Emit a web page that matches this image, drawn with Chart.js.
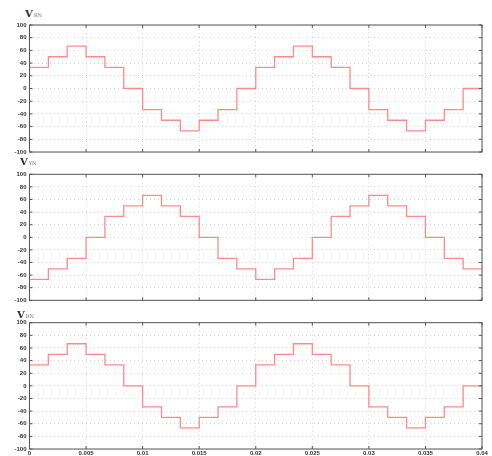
<!DOCTYPE html>
<html>
<head>
<meta charset="utf-8">
<script src="https://cdn.jsdelivr.net/npm/chart.js@4.4.1/dist/chart.umd.min.js"></script>
<style>
  body { margin: 0; background: #fff; }
  #wrap { position: relative; width: 492px; height: 456px; overflow: hidden; }
  canvas { position: absolute; left: 0; }
  .ttl { position: absolute; font-family: "DejaVu Serif", "Liberation Serif", serif; font-weight: bold; font-size: 10px; color: #333; line-height: 1; }
  .ttl sub { font-size: 5px; font-weight: normal; color: #777; vertical-align: baseline; position: relative; top: 0; margin-left: 1px; }
</style>
</head>
<body>
<div id="wrap">
  <div class="ttl" style="left:25px;top:9px">V<sub>RN</sub></div>
  <canvas id="c1" width="492" height="160" style="top:0"></canvas>
  <div class="ttl" style="left:20px;top:157px">V<sub>YN</sub></div>
  <canvas id="c2" width="492" height="160" style="top:150px"></canvas>
  <div class="ttl" style="left:17px;top:310px">V<sub>BN</sub></div>
  <canvas id="c3" width="492" height="156" style="top:300px"></canvas>
</div>
<script>
const times = [0, 0.001667, 0.003333, 0.005, 0.006667, 0.008333, 0.01, 0.011667, 0.013333,
  0.015, 0.016667, 0.018333, 0.02, 0.021667, 0.023333, 0.025, 0.026667, 0.028333, 0.03,
  0.031667, 0.033333, 0.035, 0.036667, 0.038333, 0.04];

const vRN = [33.3, 50, 66.7, 50, 33.3, 0, -33.3, -50, -66.7, -50, -33.3, 0,
  33.3, 50, 66.7, 50, 33.3, 0, -33.3, -50, -66.7, -50, -33.3, 0, 0];
const vYN = [-66.7, -50, -33.3, 0, 33.3, 50, 66.7, 50, 33.3, 0, -33.3, -50,
  -66.7, -50, -33.3, 0, 33.3, 50, 66.7, 50, 33.3, 0, -33.3, -50, -50];
const vBN = [33.3, 50, 66.7, 50, 33.3, 0, -33.3, -50, -66.7, -50, -33.3, 0,
  33.3, 50, 66.7, 50, 33.3, 0, -33.3, -50, -66.7, -50, -33.3, 0, 0];

const xTicks = ['0', '0.005', '0.01', '0.015', '0.02', '0.025', '0.03', '0.035', '0.04'];
const yTicks = [-100, -80, -60, -40, -20, 0, 20, 40, 60, 80, 100];

// frame + inward tick marks, matlab style
const framePlugin = {
  id: 'frame',
  afterDraw(chart) {
    const { ctx, chartArea: a, scales } = chart;
    ctx.save();
    ctx.strokeStyle = '#555';
    ctx.lineWidth = 1;
    ctx.strokeRect(a.left, a.top, a.right - a.left, a.bottom - a.top);
    ctx.beginPath();
    yTicks.forEach(v => {
      const y = scales.y.getPixelForValue(v);
      ctx.moveTo(a.left, y); ctx.lineTo(a.left + 3, y);
      ctx.moveTo(a.right, y); ctx.lineTo(a.right - 3, y);
    });
    xTicks.forEach((t, i) => {
      const x = scales.x.getPixelForValue(i * 0.005);
      ctx.moveTo(x, a.top); ctx.lineTo(x, a.top + 3);
      ctx.moveTo(x, a.bottom); ctx.lineTo(x, a.bottom - 3);
    });
    ctx.stroke();
    ctx.restore();
  }
};

function makePanel(id, values, pad, showX) {
  const points = times.map((t, i) => ({ x: t, y: values[i] }));
  return new Chart(document.getElementById(id), {
    type: 'line',
    data: {
      datasets: [{
        data: points,
        stepped: 'before',
        borderColor: '#ff8a8a',
        borderWidth: 1.3,
        pointRadius: 0,
        fill: false
      }]
    },
    options: {
      responsive: false,
      animation: false,
      layout: { padding: pad },
      plugins: { legend: { display: false }, tooltip: { enabled: false } },
      scales: {
        x: {
          type: 'linear',
          min: 0,
          max: 0.04,
          afterBuildTicks: s => { s.ticks = xTicks.map((t, i) => ({ value: i * 0.005 })); },
          afterFit: s => { s.height = showX ? 7 : 0; },
          grid: { color: '#c8c8c8', lineWidth: 0.8, drawTicks: false },
          border: { display: false, dash: [1, 3] },
          ticks: {
            display: showX,
            padding: 1,
            maxRotation: 0,
            autoSkip: false,
            color: '#333',
            font: { family: 'Liberation Sans, Arial, sans-serif', size: 6, weight: 'bold' },
            callback: (v, i) => xTicks[i]
          }
        },
        y: {
          min: -100,
          max: 100,
          afterBuildTicks: s => { s.ticks = yTicks.map(v => ({ value: v })); },
          afterFit: s => { s.width = 29.5; },
          grid: { color: '#c8c8c8', lineWidth: 0.8, drawTicks: false },
          border: { display: false, dash: [1, 3] },
          ticks: {
            padding: 3,
            autoSkip: false,
            color: '#333',
            font: { family: 'Liberation Sans, Arial, sans-serif', size: 6, weight: 'bold' },
            callback: v => String(v)
          }
        }
      }
    },
    plugins: [framePlugin]
  });
}

makePanel('c1', vRN, { top: 25, right: 10, bottom: 8, left: 0 }, false);
makePanel('c2', vYN, { top: 24.3, right: 10, bottom: 9.7, left: 0 }, false);
makePanel('c3', vBN, { top: 22.7, right: 10, bottom: 0, left: 0 }, true);
</script>
</body>
</html>
